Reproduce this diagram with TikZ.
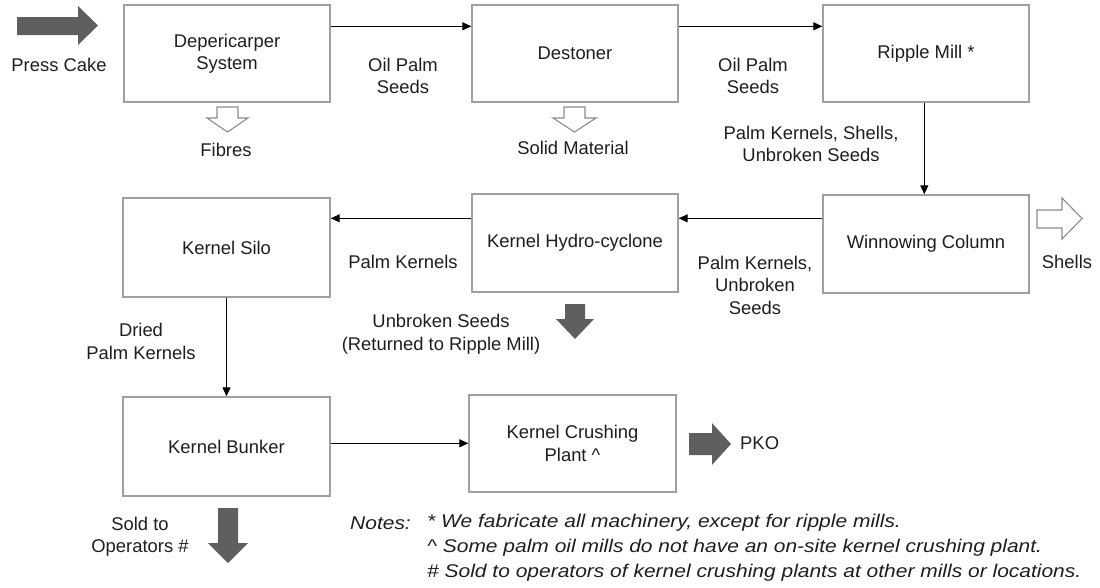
\documentclass[tikz,border=0pt]{standalone}
\usepackage{fontspec}
\usepackage{graphicx}
\setmainfont{Liberation Sans}
\usetikzlibrary{arrows.meta,calc}
\definecolor{txt}{HTML}{1E1E1E}
\definecolor{boxline}{HTML}{A0A0A0}
\definecolor{blockgray}{HTML}{5F5F5F}
\definecolor{hollow}{HTML}{8C8C8C}
\newcommand{\notestretch}[1]{\scalebox{1.14}[1]{#1}}
\begin{document}
\begin{tikzpicture}[x=1pt,y=-1pt,
  every node/.style={text=txt,font=\fontsize{18.4}{22.5}\selectfont},
  procbox/.style={draw=boxline,line width=1.4pt,fill=white,minimum width=206pt,minimum height=97pt,align=center,inner sep=0pt},
  lbl/.style={align=center,inner sep=0pt},
  flow/.style={draw=black,line width=1.1pt,-{Triangle[length=9pt,width=8pt]}},
  solidarrow/.style={fill=blockgray,draw=none},
  hollowarrow/.style={fill=white,draw=hollow,line width=1.1pt},
  notetext/.style={font=\fontsize{18.4}{25}\itshape\selectfont,inner sep=0pt,anchor=west}
]
\useasboundingbox (0,0) rectangle (1100,587);

% process boxes
\node[procbox] (dep) at (227,53.5) {Depericarper\\System};
\node[procbox] (des) at (575,53.5) {Destoner};
\node[procbox] (rip) at (926,53.5) {Ripple Mill *};
\node[procbox,minimum height=98pt] (win) at (926,244) {Winnowing Column};
\node[procbox,minimum height=98pt] (hyd) at (575,243) {Kernel Hydro-cyclone};
\node[procbox,minimum width=207pt,minimum height=99pt] (silo) at (226.5,247.5) {Kernel Silo};
\node[procbox,minimum width=207pt,minimum height=99pt] (bunk) at (226.5,446.5) {Kernel Bunker};
\node[procbox,minimum width=207pt,minimum height=97pt] (crush) at (572.5,443.5) {Kernel Crushing\\Plant \^{}};

% connectors
\coordinate (c1) at ($(dep.north east)+(0,22)$);
\draw[flow] (c1) -- (c1 -| des.west);
\coordinate (c2) at ($(des.north east)+(0,22)$);
\draw[flow] (c2) -- (c2 -| rip.west);
\coordinate (c3) at ($(rip.south west)+(102,0)$);
\draw[flow] (c3) -- (c3 |- win.north);
\coordinate (c4) at ($(win.north west)+(0,24)$);
\draw[flow] (c4) -- (c4 -| hyd.east);
\coordinate (c5) at ($(hyd.north west)+(0,25)$);
\draw[flow] (c5) -- (c5 -| silo.east);
\draw[flow] (silo.south) -- (bunk.north);
\coordinate (c6) at ($(bunk.north east)+(0,47)$);
\draw[flow] (c6) -- (c6 -| crush.west);

% connector labels
\node[lbl] (l1) at (403,76) {Oil Palm\\Seeds};
\node[lbl] (l2) at (753,76) {Oil Palm\\Seeds};
\node[lbl] (l3) at (811,144) {Palm Kernels, Shells,\\Unbroken Seeds};
\node[lbl] (l4) at (755,285) {Palm Kernels,\\Unbroken\\Seeds};
\node[lbl] (l5) at (403,262) {Palm Kernels};
\node[lbl] (l6) at (141,341.5) {Dried\\Palm Kernels};

% press cake input
\fill[solidarrow] (17,17) -- (78,17) -- (78,6) -- (98,25.5) -- (78,45) -- (78,35) -- (17,35) -- cycle;
\node[lbl] (presscake) at (59,65) {Press Cake};

% fibres
\draw[hollowarrow] (217,107) -- (238,107) -- (238,118) -- (248,118) -- (227.5,132) -- (207,118) -- (217,118) -- cycle;
\node[lbl] (fibres) at (226,150) {Fibres};

% solid material
\draw[hollowarrow] (564,107) -- (585,107) -- (585,118) -- (596,118) -- (574.5,132) -- (553,118) -- (564,118) -- cycle;
\node[lbl] (solid) at (573,148) {Solid Material};

% shells
\draw[hollowarrow] (1037,210) -- (1062,210) -- (1062,198) -- (1082,218.5) -- (1062,239) -- (1062,228) -- (1037,228) -- cycle;
\node[lbl] (shells) at (1067,262) {Shells};

% unbroken seeds
\fill[solidarrow] (565,304) -- (585,304) -- (585,319) -- (594,319) -- (575,339) -- (556,319) -- (565,319) -- cycle;
\node[lbl] (unbroken) at (441,334) {Unbroken Seeds\\(Returned to Ripple Mill)};

% PKO
\fill[solidarrow] (689,433) -- (712,433) -- (712,423) -- (731,444) -- (712,465) -- (712,455) -- (689,455) -- cycle;
\node[lbl,anchor=west] (pko) at (740,443) {PKO};

% sold to operators
\fill[solidarrow] (218,508) -- (238,508) -- (238,543) -- (248,543) -- (228,563) -- (208,543) -- (218,543) -- cycle;
\node[lbl] (sold) at (140,536.5) {Sold to\\Operators \#};

% notes
\node[notetext] (notes) at (350,523) {\notestretch{Notes:}};
\node[notetext] (n1) at (427,523) {\notestretch{* We fabricate all machinery, except for ripple mills.}};
\node[notetext] (n2) at (427,548) {\notestretch{\^{} Some palm oil mills do not have an on-site kernel crushing plant.}};
\node[notetext] (n3) at (427,573) {\notestretch{\# Sold to operators of kernel crushing plants at other mills or locations.}};
\end{tikzpicture}
\end{document}
